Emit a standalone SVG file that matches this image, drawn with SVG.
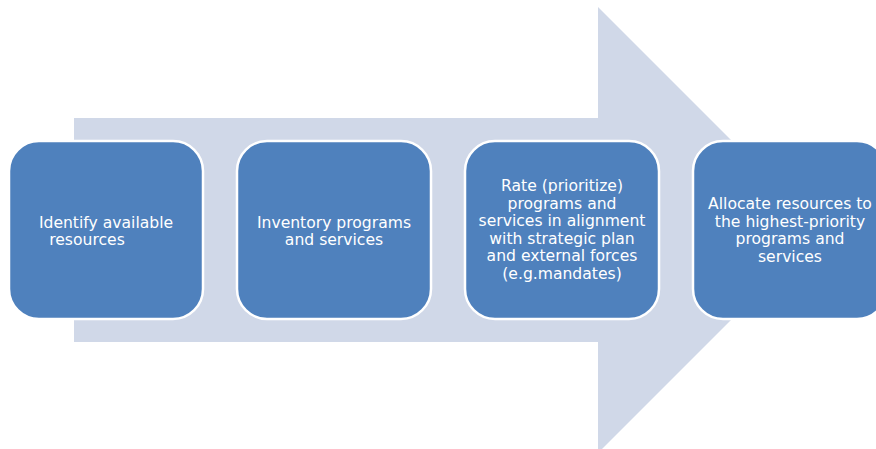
<svg xmlns="http://www.w3.org/2000/svg" width="876" height="449" viewBox="0 0 876 449">
<style>
.box{fill:#4F81BD;stroke:#FFFFFF;stroke-width:2.5}
.t{font-family:"DejaVu Sans","Liberation Sans",sans-serif;font-size:15.6px;fill:#FFFFFF;text-anchor:middle}
</style>
<rect width="876" height="449" fill="#FFFFFF"/>
<g id="arrow">
<polygon points="74,118 598,118 598,7 821,230 598,453 598,342 74,342" fill="#D0D8E8"/>
</g>
<g id="connectors"></g>
<g id="node1">
<rect class="box" x="9" y="141" width="194" height="178" rx="30" ry="30"/>
<text class="t" x="106" y="227.5">Identify available</text>
<text class="t" x="87" y="244.5">resources</text>
</g>
<g id="node2">
<rect class="box" x="237" y="141" width="194" height="178" rx="30" ry="30"/>
<text class="t" x="334" y="227.5">Inventory programs</text>
<text class="t" x="334" y="244.5">and services</text>
</g>
<g id="node3">
<rect class="box" x="465" y="141" width="194" height="178" rx="30" ry="30"/>
<text class="t" x="562" y="191">Rate (prioritize)</text>
<text class="t" x="562" y="208.5">programs and</text>
<text class="t" x="562" y="226">services in alignment</text>
<text class="t" x="562" y="243.5">with strategic plan</text>
<text class="t" x="562" y="261">and external forces</text>
<text class="t" x="562" y="278.5">(e.g.mandates)</text>
</g>
<g id="node4">
<rect class="box" x="693" y="141" width="194" height="178" rx="30" ry="30"/>
<text class="t" x="790" y="209">Allocate resources to</text>
<text class="t" x="790" y="226.5">the highest-priority</text>
<text class="t" x="790" y="244">programs and</text>
<text class="t" x="790" y="261.5">services</text>
</g>
</svg>
